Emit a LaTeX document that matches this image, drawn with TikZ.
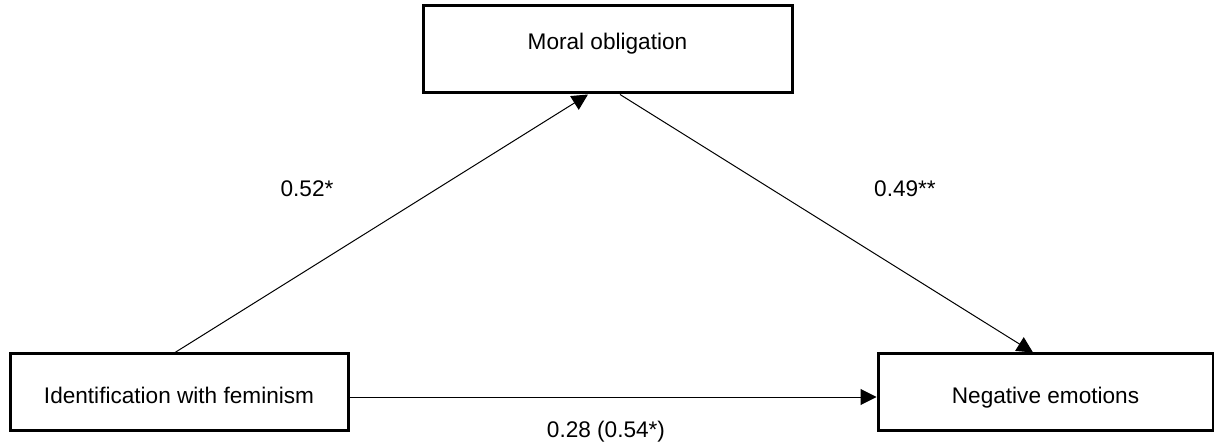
\documentclass[tikz,border=0pt]{standalone}
\usepackage{fontspec}
\setmainfont{Liberation Sans}
\usetikzlibrary{arrows.meta}

\begin{document}
\begin{tikzpicture}[x=0.5pt, y=-0.5pt, font=\fontsize{11.3}{13.6}\selectfont,
        varbox/.style={draw, line width=1.5pt, text height=8.1pt, text depth=0pt},
        coef/.style={anchor=base},
        effect/.style={-{Triangle[length=8pt,width=8pt]}, line width=0.5pt}]
            \useasboundingbox (0,0) rectangle (1214,448);
            % variables
            \node[varbox, minimum width=184.5pt, minimum height=43.5pt, text depth=8pt] (mor) at (607.5,49.5) {Moral obligation};
            \node[varbox, minimum width=169pt, minimum height=38pt, text height=11.6pt] (ident) at (179,392) {Identification with feminism};
            \node[varbox, minimum width=167.5pt, minimum height=38pt, text height=11.6pt] (neg) at (1045.5,392) {Negative emotions};
            % paths
            \draw[effect] ([xshift=-2pt]ident.north) -- ([xshift=-9.75pt]mor.south);
            \draw[effect] ([xshift=6.25pt]mor.south) -- ([xshift=-6.25pt]neg.north);
            \draw[effect] ([yshift=-2.5pt]ident.east) -- ([yshift=-2.5pt]neg.west);
            % coefficients
            \node[coef] (ca) at (307,197) {0.52*};
            \node[coef] (cb) at (905,197) {0.49**};
            \node[coef] (cc) at (606,437) {0.28 (0.54*)};
        \end{tikzpicture}
\end{document}
